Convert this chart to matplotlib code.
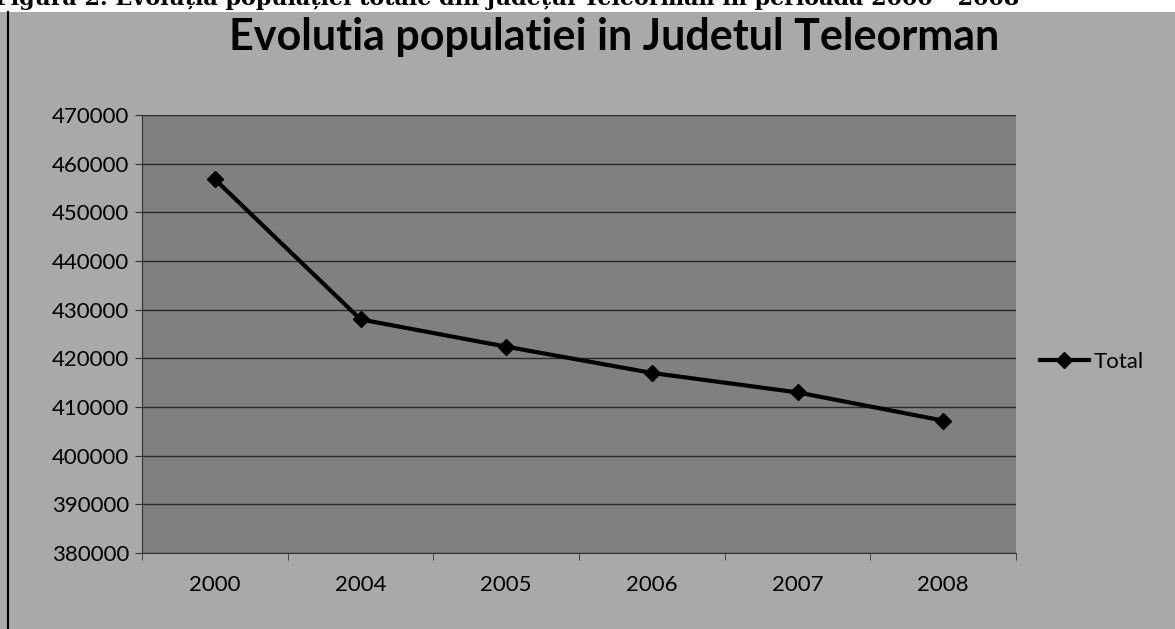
import numpy as np
import matplotlib
matplotlib.use("Agg")
import matplotlib.pyplot as plt

# data
years = ['2000', '2004', '2005', '2006', '2007', '2008']
total = [456800, 428000, 422400, 417000, 413000, 407200]
yticks = np.arange(380000, 470001, 10000)

W, H = 1175, 629
fig = plt.figure(figsize=(W / 100, H / 100), dpi=100)
fig.patch.set_facecolor('#a9a9a9')

# page caption, cut off by the scan at the top
fig.text(-0.004, 1.003, 'Figura 2. Evoluția populației totale din județul Teleorman în perioada 2000 - 2008',
         family='DejaVu Serif', weight='bold', fontsize=16, va='center', ha='left', color='black')
# white strip behind the caption
fig.patches.append(plt.Rectangle((0, 1 - 12 / H), 1, 12 / H, transform=fig.transFigure,
                                 facecolor='white', zorder=-4))
# left frame line of the chart
fig.add_artist(plt.Line2D([8 / W, 8 / W], [0, 1 - 12 / H], transform=fig.transFigure,
                          color='black', lw=1.5))

left, right = 142 / W, 1016 / W
bottom, top = 1 - 553 / H, 1 - 115 / H
ax = fig.add_axes([left, bottom, right - left, top - bottom])
ax.set_facecolor('#808080')

x = np.arange(len(years))
ax.plot(x, total, color='black', lw=3, marker='D', markersize=8, label='Total', zorder=3)

ax.set_xlim(-0.5, len(years) - 0.5)
ax.set_ylim(380000, 470000)
ax.set_yticks(yticks)
ax.set_yticklabels([str(v) for v in yticks], family='Lato', fontsize=16)
ax.set_xticks(x)
ax.set_xticklabels(years, family='Lato', fontsize=16)
ax.set_xticks(np.arange(-0.5, len(years), 1), minor=True)
ax.tick_params(axis='x', which='major', length=0, pad=16)
ax.tick_params(axis='x', which='minor', length=5, color='#333333')
ax.tick_params(axis='y', length=5, color='#333333', pad=4)
ax.grid(axis='y', color='#2a2a2a', lw=1)
for s in ['top', 'right']:
    ax.spines[s].set_visible(False)
ax.spines['left'].set_color('#333333')
ax.spines['bottom'].set_color('#333333')

fig.text(0.523, 1 - 37 / H, 'Evolutia populatiei in Judetul Teleorman', family='Lato',
         weight='bold', fontsize=31, ha='center', va='center', color='black')

leg = ax.legend(loc='center left', bbox_to_anchor=(1040 / W, 1 - 362 / H),
                bbox_transform=fig.transFigure, frameon=False, handlelength=2.2,
                handletextpad=0.2, borderaxespad=0, borderpad=0,
                prop={'family': 'Lato', 'size': 16})

fig.savefig('out.png', dpi=100, facecolor=fig.get_facecolor())
